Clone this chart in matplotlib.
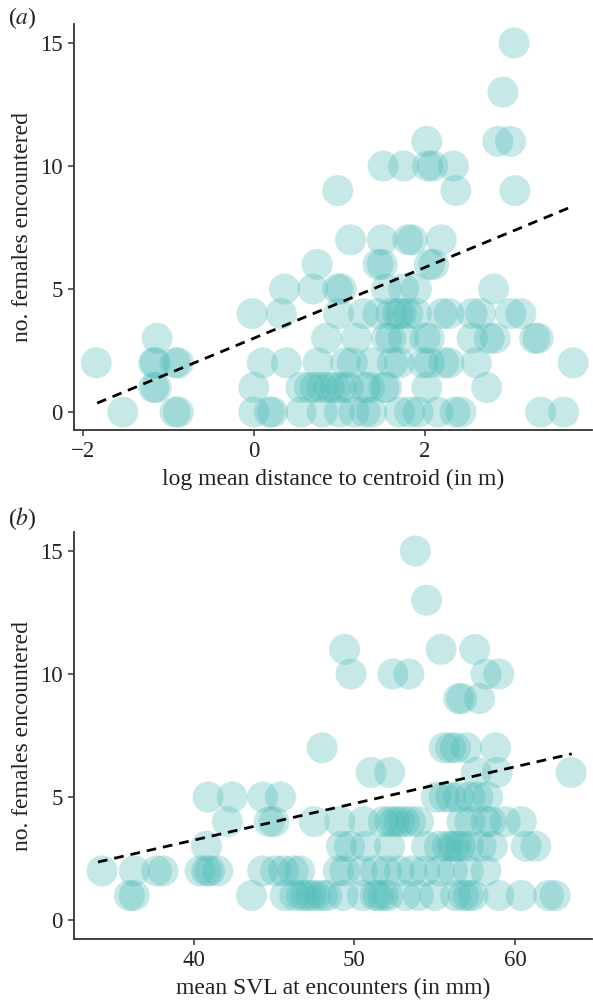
import matplotlib
matplotlib.use("Agg")
import matplotlib.pyplot as plt
import numpy as np

plt.rcParams['font.family'] = ['Liberation Serif', 'DejaVu Serif']
plt.rcParams['mathtext.fontset'] = 'stix'

# panel (a): log mean distance to centroid vs number of females
a_x = [3.04,
       2.91,
       2.85, 3.0, 2.02,
       1.51, 1.75, 2.03, 2.09, 2.33,
       0.98, 2.36, 3.05,
       1.13, 1.5, 1.8, 1.85, 2.19,
       0.74, 1.45, 1.5, 2.05, 2.1,
       0.36, 0.69, 0.98, 1.02, 1.55, 1.75, 1.9, 2.8,
       -0.02, 0.32, 0.99, 1.28, 1.45, 1.6, 1.68, 1.72, 1.8, 1.9, 2.2, 2.28, 2.55, 2.65, 3.0, 3.12,
       -1.13, 0.85, 1.2, 1.55, 1.6, 1.75, 2.0, 2.05, 2.55, 2.75, 2.82, 3.28, 3.32,
       -1.84, -1.17, -1.15, -0.92, -0.88, 0.1, 0.38, 0.75, 1.07, 1.15, 1.38, 1.62, 1.7, 1.98, 2.05,
       2.22, 2.28, 2.6, 3.73,
       -1.17, -1.14, 0.0, 0.55, 0.65, 0.72, 0.8, 0.88, 0.95, 1.02, 1.1, 1.3, 1.35, 1.52, 1.55, 2.02, 2.72,
       -1.53, -0.92, -0.88, 0.0, 0.18, 0.22, 0.55, 0.8, 1.0, 1.17, 1.3, 1.38, 1.7, 1.82, 1.92, 2.15,
       2.35, 2.42, 3.35, 3.62]
a_y = ([15] + [13] + [11] * 3 + [10] * 5 + [9] * 3 + [7] * 5 + [6] * 5 + [5] * 8 + [4] * 16
       + [3] * 13 + [2] * 19 + [1] * 17 + [0] * 20)
a_fit = (3.0, 1.44)          # intercept, slope
a_fit_range = (-1.83, 3.68)

# panel (b): mean SVL vs number of females
b_x = [53.8,
       54.5,
       49.4, 55.4, 57.5,
       49.8, 52.4, 53.4, 58.2, 59.0,
       56.5, 56.7, 57.8,
       48.0, 55.6, 56.0, 56.3, 57.0, 58.8,
       51.05, 52.2, 57.6, 58.9, 63.5,
       40.9, 42.4, 44.3, 45.4, 55.1, 55.6, 56.0, 56.5, 57.2, 57.7, 58.3,
       42.1, 44.7, 45.0, 47.5, 49.1, 50.6, 51.8, 52.2, 52.5, 52.8, 53.1, 53.5, 54.0, 56.7, 57.2,
       58.2, 58.5, 59.4, 60.4,
       40.8, 49.2, 49.7, 50.7, 52.2, 54.5, 55.3, 55.8, 56.1, 56.3, 56.6, 57.1, 57.9, 58.6, 60.7, 61.3,
       34.3, 36.3, 37.7, 38.1, 40.4, 40.8, 41.0, 41.5, 44.3, 45.1, 45.6, 46.2, 46.6, 49.0, 49.4,
       50.5, 51.3, 52.0, 52.8, 53.6, 54.4, 55.3, 56.1, 57.1, 58.2,
       36.0, 36.3, 43.6, 45.7, 46.3, 46.7, 47.0, 47.3, 47.6, 48.0, 48.3, 49.3, 50.5, 51.3, 51.5,
       51.8, 52.1, 53.2, 54.0, 55.0, 56.3, 56.8, 57.1, 57.4, 59.0, 60.4, 62.1, 62.5]
b_y = ([15] + [13] + [11] * 3 + [10] * 5 + [9] * 3 + [7] * 6 + [6] * 5 + [5] * 11 + [4] * 19
       + [3] * 16 + [2] * 25 + [1] * 28)
b_fit = (2.36, 0.149)        # value at x0, slope
b_fit_x0 = 34.04
b_fit_range = (34.04, 63.54)

point_colour = '#45b8b4'
spine_colour = '#333333'
text_colour = '#222222'

fig = plt.figure(figsize=(5.93, 10.01), dpi=100)
ax_a = fig.add_axes([0.1248, 0.5704, 0.8735, 0.4056])
ax_b = fig.add_axes([0.1248, 0.0619, 0.8735, 0.4066])


def style_axes(ax):
    for side in ['top', 'right']:
        ax.spines[side].set_visible(False)
    for side in ['left', 'bottom']:
        ax.spines[side].set_color(spine_colour)
        ax.spines[side].set_linewidth(1.3)
    ax.tick_params(direction='out', length=4, width=1.1, color=spine_colour,
                   labelsize=16.5, labelcolor=text_colour, pad=4)
    ax.set_yticks([0, 5, 10, 15])
    ax.set_ylabel('no. females encountered', fontsize=17, color=text_colour, labelpad=5)


# (a)
ax_a.scatter(a_x, a_y, s=500, color=point_colour, alpha=0.3, edgecolors='none', zorder=2)
xs = np.array(a_fit_range)
ax_a.plot(xs, a_fit[0] + a_fit[1] * xs, color='black', linewidth=2,
          linestyle=(0, (3.5, 2.5)), zorder=3)
ax_a.set_xlim(-2.1, 3.95)
ax_a.set_ylim(-0.73, 15.77)
ax_a.set_xticks([-2, 0, 2])
style_axes(ax_a)
ax_a.set_xlabel('log mean distance to centroid (in m)', fontsize=17, color=text_colour, labelpad=5)

# (b)
ax_b.scatter(b_x, b_y, s=500, color=point_colour, alpha=0.3, edgecolors='none', zorder=2)
xs = np.array(b_fit_range)
ax_b.plot(xs, b_fit[0] + b_fit[1] * (xs - b_fit_x0), color='black', linewidth=2,
          linestyle=(0, (3.5, 2.5)), zorder=3)
ax_b.set_xlim(32.55, 64.8)
ax_b.set_ylim(-0.77, 15.77)
ax_b.set_xticks([40, 50, 60])
style_axes(ax_b)
ax_b.set_xlabel('mean SVL at encounters (in mm)', fontsize=17, color=text_colour, labelpad=5)

fig.text(0.014, 0.982, r'($\mathit{a}$)', fontsize=17, color=text_colour, va='center')
fig.text(0.014, 0.482, r'($\mathit{b}$)', fontsize=17, color=text_colour, va='center')

fig.savefig('out.png', dpi=100)
